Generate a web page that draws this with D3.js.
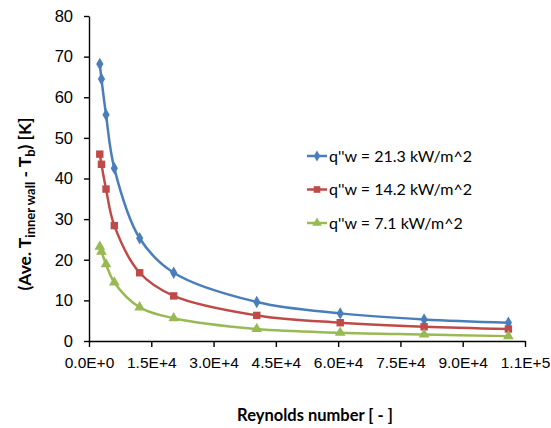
<!DOCTYPE html>
<html>
<head>
<meta charset="utf-8">
<script src="https://cdn.jsdelivr.net/npm/d3@7"></script>
<style>
  body { margin: 0; background: #fff; }
  svg { font-family: Lato, "Open Sans", sans-serif; }
</style>
</head>
<body>
<div id="container"></div>
<script>
/* DATA */
const reynolds = [2600, 3000, 4100, 6100, 12200, 20400, 40400, 60500, 80700, 101000];
const q213 = [68.2, 64.5, 55.7, 42.5, 25.3, 16.8, 9.6, 6.8, 5.3, 4.5];
const q142 = [46.0, 43.5, 37.4, 28.4, 16.8, 11.1, 6.3, 4.5, 3.5, 2.95];
const q71 = [23.2, 22.0, 18.9, 14.4, 8.3, 5.6, 2.95, 2.05, 1.6, 1.2];
const seriesNames = ["q''w = 21.3 kW/m^2", "q''w = 14.2 kW/m^2", "q''w = 7.1 kW/m^2"];
const xTicks = [0, 15000, 30000, 45000, 60000, 75000, 90000, 105000];
const xTickLabels = ["0.0E+0", "1.5E+4", "3.0E+4", "4.5E+4", "6.0E+4", "7.5E+4", "9.0E+4", "1.1E+5"];
const yTicks = [0, 10, 20, 30, 40, 50, 60, 70, 80];

/* CONSTANTS */
const width = 551,
    height = 428,
    margin = { top: 16, bottom: 87, left: 89, right: 26 };

const colors = ["#4A7EBB", "#BE4B48", "#98B954"];
const symbols = [d3.symbolDiamond, d3.symbolSquare, d3.symbolTriangle];
const symSize = [45, 55, 50];

const series = [q213, q142, q71].map((vals, i) => ({
    name: seriesNames[i],
    values: vals.map((v, j) => ({ x: reynolds[j], y: v }))
}));

const xScale = d3.scaleLinear()
    .domain([0, 105000])
    .range([margin.left, width - margin.right]);

const yScale = d3.scaleLinear()
    .domain([0, 80])
    .range([height - margin.bottom, margin.top]);

const svg = d3.select("#container")
    .append("svg")
    .attr("width", width)
    .attr("height", height);

//X AXIS
const xAxis = d3.axisBottom(xScale)
    .tickValues(xTicks)
    .tickFormat((d, i) => xTickLabels[i])
    .tickSize(6)
    .tickSizeOuter(0)
    .tickPadding(10);
const gx = svg.append("g")
    .attr("transform", `translate(0,${height - margin.bottom})`)
    .call(xAxis);
gx.selectAll("text").style("font-size", "15.5px").attr("fill", "#000");

//Y AXIS
const yAxis = d3.axisLeft(yScale)
    .tickValues(yTicks)
    .tickSize(5)
    .tickSizeOuter(0)
    .tickPadding(11);
const gy = svg.append("g")
    .attr("transform", `translate(${margin.left},0)`)
    .call(yAxis);
gy.selectAll("text").style("font-size", "16.5px").attr("fill", "#000");

svg.selectAll(".domain, .tick line").attr("stroke", "#000").attr("stroke-width", 1.4);

//LINES
const line = d3.line()
    .x(d => xScale(d.x))
    .y(d => yScale(d.y))
    .curve(d3.curveCatmullRom.alpha(0.5));

series.forEach((s, i) => {
    svg.append("path")
        .datum(s.values)
        .attr("fill", "none")
        .attr("stroke", colors[i])
        .attr("stroke-width", 2.5)
        .attr("d", line);

    svg.selectAll(".m" + i)
        .data(s.values)
        .join("path")
        .attr("class", "m" + i)
        .attr("transform", d => `translate(${xScale(d.x)},${yScale(d.y)})`)
        .attr("d", d3.symbol().type(symbols[i]).size(symSize[i]))
        .attr("fill", colors[i]);
});

//LEGEND
const legend = svg.append("g").attr("transform", "translate(307,156)");
series.forEach((s, i) => {
    const row = legend.append("g").attr("transform", `translate(0,${i * 33.5})`);
    row.append("line")
        .attr("x1", 0).attr("x2", 20)
        .attr("stroke", colors[i]).attr("stroke-width", 2.5);
    row.append("path")
        .attr("transform", "translate(10,0)")
        .attr("d", d3.symbol().type(symbols[i]).size(symSize[i] * 0.8))
        .attr("fill", colors[i]);
    row.append("text")
        .attr("x", 22)
        .attr("dy", "0.35em")
        .style("font-size", "16px")
        .text(s.name);
});

//X AXIS LABEL
svg.append("text")
    .attr("x", 315)
    .attr("y", 421)
    .attr("text-anchor", "middle")
    .style("font-size", "16.5px")
    .style("font-weight", "bold")
    .text("Reynolds number [ - ]");

//Y AXIS LABEL
const yl = svg.append("text")
    .attr("transform", "translate(31,204) rotate(-90)")
    .attr("text-anchor", "middle")
    .style("font-size", "17.5px")
    .style("font-weight", "bold");
yl.append("tspan").text("(Ave. T");
yl.append("tspan").attr("dy", 4).style("font-size", "13px").text("inner wall");
yl.append("tspan").attr("dy", -4).text(" - T");
yl.append("tspan").attr("dy", 4).style("font-size", "13px").text("b");
yl.append("tspan").attr("dy", -4).text(") [K]");
</script>
</body>
</html>
